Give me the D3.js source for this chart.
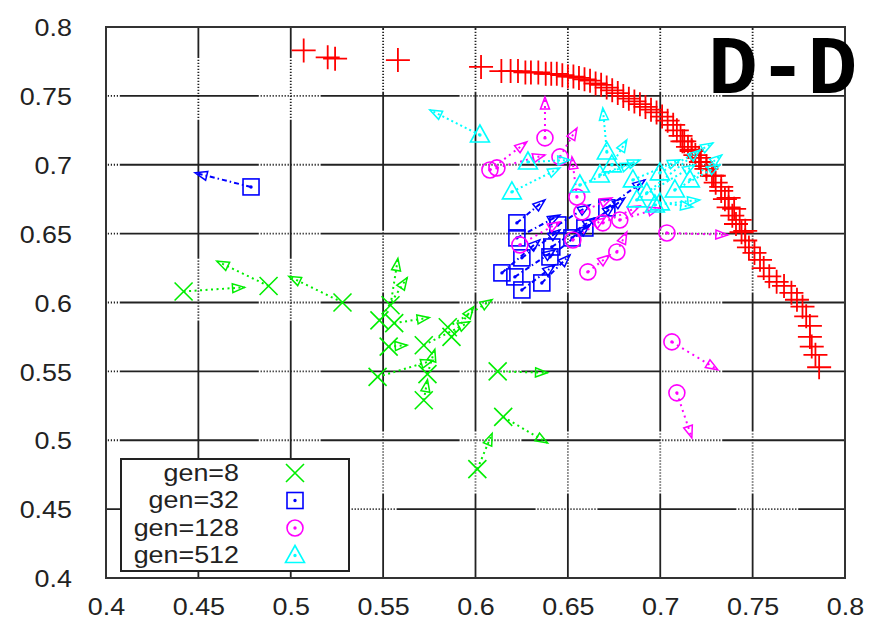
<!DOCTYPE html>
<html>
<head>
<meta charset="utf-8">
<script src="https://cdn.jsdelivr.net/npm/d3@7"></script>
<style>
  body { margin: 0; background: #fff; }
</style>
</head>
<body>
<svg id="chart" width="873" height="620"></svg>
<script>
// ticks
const xTicks = [0.4, 0.45, 0.5, 0.55, 0.6, 0.65, 0.7, 0.75, 0.8];
const yTicks = [0.4, 0.45, 0.5, 0.55, 0.6, 0.65, 0.7, 0.75, 0.8];

// front (red +), [x, y]
const front = [
  [0.507, 0.783], [0.520, 0.778], [0.524, 0.777], [0.558, 0.776], [0.603, 0.771],
  [0.614, 0.768], [0.619, 0.768], [0.623, 0.768], [0.627, 0.767], [0.630, 0.767],
  [0.634, 0.767], [0.638, 0.766], [0.641, 0.766], [0.644, 0.766], [0.647, 0.765],
  [0.650, 0.764], [0.653, 0.764], [0.656, 0.763], [0.659, 0.762], [0.662, 0.761],
  [0.665, 0.759], [0.668, 0.758], [0.671, 0.756], [0.674, 0.754], [0.677, 0.752],
  [0.680, 0.750], [0.683, 0.748], [0.686, 0.746], [0.689, 0.744], [0.692, 0.742],
  [0.695, 0.740], [0.698, 0.738], [0.701, 0.735], [0.704, 0.732], [0.707, 0.729],
  [0.709, 0.725], [0.711, 0.721], [0.713, 0.717], [0.715, 0.713], [0.717, 0.710],
  [0.719, 0.707], [0.722, 0.702], [0.725, 0.697], [0.728, 0.692], [0.730, 0.687],
  [0.733, 0.681], [0.735, 0.675], [0.737, 0.669], [0.739, 0.663], [0.741, 0.657],
  [0.744, 0.651], [0.746, 0.645], [0.748, 0.640], [0.751, 0.636], [0.754, 0.631],
  [0.756, 0.625], [0.759, 0.619], [0.763, 0.615], [0.767, 0.612], [0.771, 0.607],
  [0.774, 0.602], [0.777, 0.597], [0.779, 0.590], [0.781, 0.583], [0.781, 0.575],
  [0.782, 0.568], [0.784, 0.562], [0.786, 0.553],
  [0.712, 0.717], [0.717, 0.711], [0.721, 0.705], [0.725, 0.699], [0.729, 0.692],
  [0.733, 0.684], [0.737, 0.676], [0.740, 0.668], [0.743, 0.660], [0.746, 0.652]
];

// generations: [x, y, x to, y to]
const gen8 = [
  [0.442, 0.608, 0.475, 0.611], [0.488, 0.612, 0.460, 0.630], [0.528, 0.600, 0.499, 0.619],
  [0.554, 0.598, 0.558, 0.632], [0.548, 0.587, 0.563, 0.618], [0.556, 0.585, 0.575, 0.589],
  [0.553, 0.568, 0.563, 0.569], [0.547, 0.546, 0.577, 0.558], [0.572, 0.569, 0.597, 0.586],
  [0.585, 0.582, 0.609, 0.602], [0.587, 0.575, 0.599, 0.597], [0.574, 0.548, 0.578, 0.566],
  [0.572, 0.529, 0.574, 0.544], [0.612, 0.550, 0.639, 0.549], [0.615, 0.517, 0.639, 0.498],
  [0.601, 0.479, 0.609, 0.505]
];
const gen32 = [
  [0.4785, 0.6839, 0.4482, 0.6941], [0.6224, 0.6578, 0.6376, 0.6745], [0.6224, 0.6469, 0.6457, 0.6636],
  [0.6251, 0.6324, 0.6457, 0.6527], [0.6143, 0.6215, 0.6348, 0.6455], [0.6213, 0.6186, 0.6430, 0.6382],
  [0.6251, 0.6091, 0.6430, 0.6273], [0.6359, 0.6142, 0.6511, 0.6345], [0.6403, 0.6331, 0.6619, 0.6563],
  [0.6413, 0.6403, 0.6646, 0.6614], [0.6446, 0.6563, 0.6619, 0.6708], [0.6522, 0.6469, 0.6754, 0.6708],
  [0.6592, 0.6541, 0.6808, 0.6759], [0.6711, 0.6687, 0.6917, 0.6890]
];
const gen128 = [
  [0.6376, 0.7195, 0.6376, 0.7492], [0.6078, 0.6962, 0.6278, 0.7166], [0.6116, 0.6977, 0.6376, 0.7071],
  [0.6457, 0.7057, 0.6549, 0.7267], [0.6549, 0.6766, 0.6522, 0.7057], [0.6576, 0.6657, 0.6738, 0.6759],
  [0.6689, 0.6578, 0.6890, 0.6701], [0.6781, 0.6599, 0.6998, 0.6686], [0.6527, 0.6454, 0.6700, 0.6614],
  [0.6240, 0.6418, 0.6457, 0.6585], [0.6765, 0.6367, 0.6819, 0.6512], [0.6608, 0.6222, 0.6727, 0.6345],
  [0.7036, 0.6505, 0.7366, 0.6491], [0.7063, 0.5714, 0.7312, 0.5511], [0.7090, 0.5344, 0.7171, 0.5017]
];
const gen512 = [
  [0.6024, 0.7216, 0.5753, 0.7398], [0.6197, 0.6803, 0.6457, 0.6977], [0.6284, 0.7020, 0.6511, 0.7035],
  [0.6711, 0.7093, 0.6689, 0.7412], [0.6738, 0.6999, 0.6819, 0.7180], [0.6565, 0.6853, 0.6852, 0.7013],
  [0.6673, 0.6926, 0.6890, 0.7035], [0.6852, 0.6890, 0.7106, 0.7035], [0.6873, 0.6745, 0.7187, 0.6999],
  [0.6927, 0.6795, 0.7214, 0.7107], [0.6998, 0.6941, 0.7285, 0.7158], [0.6998, 0.6723, 0.7176, 0.6694],
  [0.7079, 0.6817, 0.7323, 0.6999], [0.7160, 0.6890, 0.7333, 0.7071], [0.6971, 0.6708, 0.7214, 0.6745]
];

const legendLabels = ["gen=8", "gen=32", "gen=128", "gen=512"];
const title = "D-D";

const svg = d3.select("#chart");
const padL = 106, padR = 845, padT = 27, padB = 578;
const x = d3.scaleLinear().domain([0.4, 0.8]).range([padL, padR]);
const y = d3.scaleLinear().domain([0.4, 0.8]).range([padB, padT]);
const sans = "'Liberation Sans', Arial, sans-serif";

svg.append("rect").attr("width", 873).attr("height", 620).attr("fill", "#fff");

// grid: dotted lines that come out mostly solid after downscaling
let dots = [139, 1.8];
for (let i = 0; i < 20; i++) dots.push(1.2, 1.8);
const gridDash = dots.join(",");

const grid = svg.append("g").attr("stroke", "#222").attr("stroke-width", 1.8)
  .attr("stroke-dasharray", gridDash);
grid.selectAll("line.h").data(yTicks.slice(1, -1)).join("line")
  .attr("class", "h")
  .attr("x1", padL).attr("x2", padR)
  .attr("y1", d => y(d)).attr("y2", d => y(d))
  .attr("stroke-dashoffset", d => d < 0.47 ? 111 : 187);
grid.selectAll("line.v").data(xTicks.slice(1, -1)).join("line")
  .attr("class", "v")
  .attr("y1", padT).attr("y2", padB)
  .attr("x1", d => x(d)).attr("x2", d => x(d))
  .attr("stroke-dashoffset", d => d < 0.52 ? 108 : 136);

svg.append("rect")
  .attr("x", padL).attr("y", padT)
  .attr("width", padR - padL).attr("height", padB - padT)
  .attr("fill", "none").attr("stroke", "#333").attr("stroke-width", 2);

// axes
const xAxis = svg.append("g").attr("transform", `translate(0,${padB})`)
  .call(d3.axisBottom(x).tickValues(xTicks).tickSize(0).tickFormat(String));
const yAxis = svg.append("g").attr("transform", `translate(${padL},0)`)
  .call(d3.axisLeft(y).tickValues(yTicks).tickSize(0).tickFormat(String));
svg.selectAll(".domain").remove();
xAxis.selectAll("text")
  .attr("y", 37).attr("dy", null)
  .attr("transform", "scale(1.12,1)")
  .attr("fill", "#222")
  .style("font-size", "24px").style("font-family", sans);
yAxis.selectAll("text")
  .attr("x", -30.4).attr("dy", "0.36em")
  .attr("transform", "scale(1.12,1)")
  .attr("fill", "#222")
  .style("font-size", "24px").style("font-family", sans);

// marker shapes
function drawMarker(g, kind, px, py, color) {
  const s = g.append("g").attr("stroke", color).attr("fill", "none").attr("stroke-width", 1.6);
  if (kind === "plus") {
    s.attr("stroke-width", 1.8);
    s.append("path").attr("d", `M${px - 12},${py}H${px + 12}M${px},${py - 12}V${py + 12}`);
    return;
  }
  if (kind === "cross") {
    s.append("path").attr("d", `M${px - 9},${py - 9}L${px + 9},${py + 9}M${px - 9},${py + 9}L${px + 9},${py - 9}`);
    return;
  }
  if (kind === "square") {
    s.append("rect").attr("x", px - 8).attr("y", py - 8).attr("width", 16).attr("height", 16);
  } else if (kind === "circle") {
    s.append("circle").attr("cx", px).attr("cy", py).attr("r", 8);
  } else if (kind === "triangle") {
    s.append("path").attr("d", `M${px},${py - 10}L${px + 9.5},${py + 7}L${px - 9.5},${py + 7}Z`);
  }
  s.append("circle").attr("cx", px).attr("cy", py).attr("r", 0.9).attr("fill", color);
}

function drawArrow(g, x1, y1, x2, y2, color, dash) {
  g.append("line")
    .attr("x1", x1).attr("y1", y1).attr("x2", x2).attr("y2", y2)
    .attr("stroke", color).attr("stroke-width", 2).attr("stroke-dasharray", dash);
  const a = Math.atan2(y2 - y1, x2 - x1);
  const L = 12, W = 4.5;
  const bx = x2 - L * Math.cos(a), by = y2 - L * Math.sin(a);
  const p1 = [bx - W * Math.sin(a), by + W * Math.cos(a)];
  const p2 = [bx + W * Math.sin(a), by - W * Math.cos(a)];
  g.append("path")
    .attr("d", `M${p1}L${x2},${y2}L${p2}Z`)
    .attr("fill", "none").attr("stroke", color).attr("stroke-width", 1.5);
}

const plot = svg.append("g");

const fg = plot.append("g");
front.forEach(d => drawMarker(fg, "plus", x(d[0]), y(d[1]), "#ff0000"));

const series = [
  { data: gen8, kind: "cross", color: "#00ee00", dash: "2,3.5" },
  { data: gen32, kind: "square", color: "#0000ff", dash: "5,3,1.5,3" },
  { data: gen128, kind: "circle", color: "#ff00ff", dash: "2,4" },
  { data: gen512, kind: "triangle", color: "#00ffff", dash: "2,3" }
];

series.forEach(sr => {
  const g = plot.append("g");
  sr.data.forEach(d => drawArrow(g, x(d[0]), y(d[1]), x(d[2]), y(d[3]), sr.color, sr.dash));
  sr.data.forEach(d => drawMarker(g, sr.kind, x(d[0]), y(d[1]), sr.color));
});

// legend
const lg = svg.append("g");
lg.append("rect").attr("x", 121).attr("y", 459).attr("width", 228).attr("height", 112)
  .attr("fill", "#fff").attr("stroke", "#222").attr("stroke-width", 2);
series.forEach((sr, i) => {
  const by = 481 + i * 27.5;
  lg.append("text")
    .attr("x", 239 / 1.12).attr("y", by)
    .attr("transform", "scale(1.12,1)")
    .attr("text-anchor", "end").attr("fill", "#222")
    .style("font-size", "24px").style("font-family", sans)
    .text(legendLabels[i]);
  drawMarker(lg, sr.kind, 295, by - 8, sr.color);
});

// panel title
svg.append("text")
  .attr("x", 708).attr("y", 93)
  .attr("fill", "#000")
  .style("font-family", "'Liberation Mono', 'Courier New', monospace")
  .style("font-weight", "bold").style("font-size", "83px")
  .text(title);
</script>
</body>
</html>
